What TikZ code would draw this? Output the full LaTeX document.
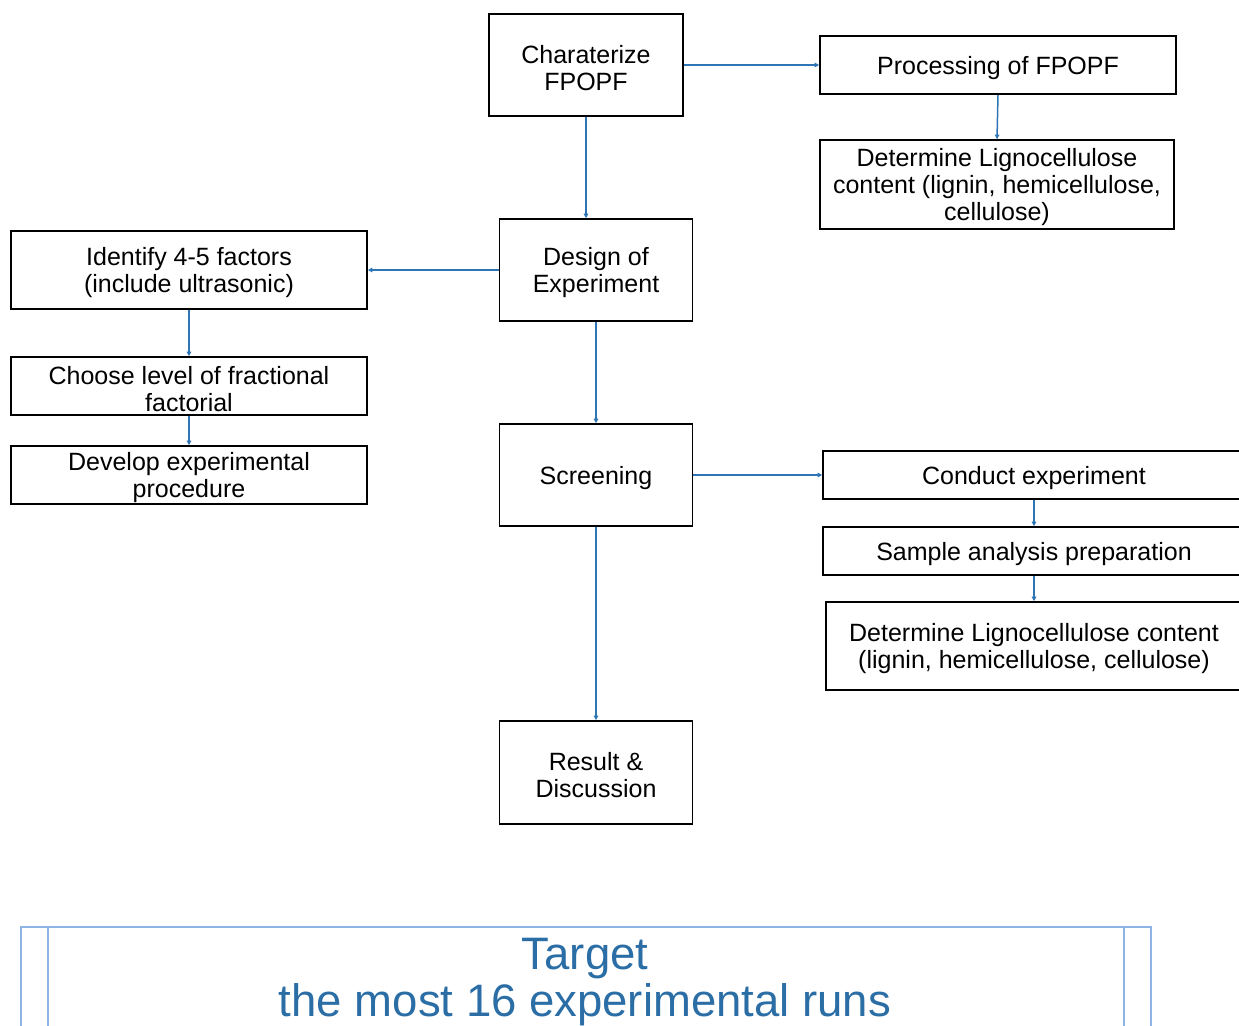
\documentclass[tikz,border=0pt]{standalone}
\usepackage{fontspec}
\setmainfont{Liberation Sans}
\usetikzlibrary{arrows.meta}
\definecolor{linkblue}{RGB}{46,117,182}
\definecolor{targetblue}{RGB}{43,110,166}
\definecolor{frameblue}{RGB}{141,180,226}
\newcommand{\tstrut}{\rule{0pt}{24pt}}
\begin{document}
\begin{tikzpicture}[x=1pt,y=-1pt,
  box/.style={draw=black, line width=1.6pt, align=center, inner sep=0pt,
    font=\fontsize{25}{27}\selectfont},
  link/.style={draw=linkblue, line width=1.5pt, -{Triangle[length=4.5pt,width=4.5pt]}},
  frame/.style={draw=frameblue, line width=1.6pt}]
\clip (0,0) rectangle (1239,1025);
\fill[white] (0,0) rectangle (1239,1025);
% nodes
\node[box, minimum width=194pt, minimum height=102pt] (char) at (586,65) {\tstrut Charaterize\\FPOPF};
\node[box, minimum width=356pt, minimum height=58pt] (proc) at (998,65) {\tstrut Processing of FPOPF};
\node[box, minimum width=354pt, minimum height=89pt] (det1) at (997,184.5) {\tstrut Determine Lignocellulose\\content (lignin, hemicellulose,\\cellulose)};
\node[box, minimum width=193pt, minimum height=102pt] (des) at (596,270) {\tstrut Design of\\Experiment};
\node[box, minimum width=356pt, minimum height=78pt] (ident) at (189,270) {\tstrut Identify 4-5 factors\\(include ultrasonic)};
\node[box, minimum width=356pt, minimum height=58pt] (choose) at (189,386) {\tstrut Choose level of fractional\\factorial};
\node[box, minimum width=356pt, minimum height=58pt] (dev) at (189,475) {\tstrut Develop experimental\\procedure};
\node[box, minimum width=193pt, minimum height=102pt] (scr) at (596,475) {\tstrut Screening};
\node[box, minimum width=422pt, minimum height=48pt] (cond) at (1034,475) {\tstrut Conduct experiment};
\node[box, minimum width=422pt, minimum height=48pt] (samp) at (1034,551) {\tstrut Sample analysis preparation};
\node[box, minimum width=416pt, minimum height=88pt] (det2) at (1034,646) {\tstrut Determine Lignocellulose content\\(lignin, hemicellulose, cellulose)};
\node[box, minimum width=193pt, minimum height=103pt] (res) at (596,772.5) {\tstrut Result \&\\Discussion};
% connectors
\draw[link] (char.south) -- (char.south |- des.north);
\draw[link] (char.east) -- (proc.west);
\draw[link] (proc.south) -- (det1.north);
\draw[link] (des.west) -- (ident.east);
\draw[link] (ident.south) -- (choose.north);
\draw[link] (choose.south) -- (dev.north);
\draw[link] (des.south) -- (scr.north);
\draw[link] (scr.east) -- (cond.west);
\draw[link] (cond.south) -- (samp.north);
\draw[link] (samp.south) -- (det2.north);
\draw[link] (scr.south) -- (res.north);
% target box
\draw[frame] (21,1045) -- (21,927) -- (1151,927) -- (1151,1045);
\draw[frame] (48,927) -- (48,1045);
\draw[frame] (1124,927) -- (1124,1045);
\node[text=targetblue, align=center, inner sep=0pt,
  font=\fontsize{45.5}{47}\selectfont] (target) at (585,982) {Target\\the most 16 experimental runs};
\end{tikzpicture}
\end{document}
